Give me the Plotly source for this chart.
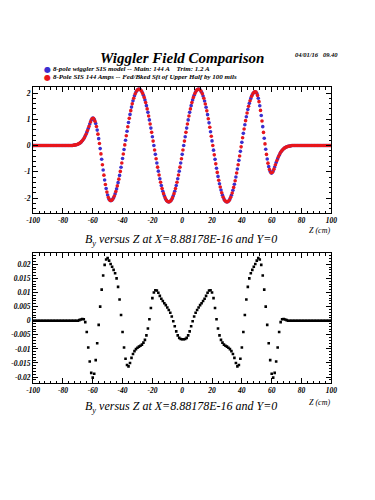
import plotly.graph_objects as go

# ---------------- data ----------------
# Top panel: By (kG) versus Z (cm); blue = SIS model, red = shifted model
Z_BLUE = list(range(-100, 101))            # sampling grid, 1 cm
BY_BLUE = (
    [0] * 27 +                                   # -100 .. -74
    [0.01, 0.02, 0.03, 0.05, 0.08, 0.12, 0.18, 0.26, 0.37, 0.5, 0.65, 0.82, 0.97] +   # -73 .. -61
    [1.05, 0.996, 0.839, 0.589, 0.263, -0.117, -0.525, -0.933, -1.313, -1.639, -1.889, -2.046, -2.1] +  # -60 .. -48
    [-2.07, -1.985, -1.843, -1.652, -1.414, -1.137, -0.829, -0.496, -0.149, 0.199, 0.546, 0.879,
     1.187, 1.464, 1.702, 1.893, 2.035, 2.12, 2.15] +                                # -47 .. -29
    [2.124, 2.045, 1.916, 1.739, 1.52, 1.264, 0.976, 0.664, 0.335, 0, -0.335, -0.664, -0.976,
     -1.264, -1.52, -1.739, -1.916, -2.045, -2.124, -2.15] +                          # -28 .. -9
    [-2.124, -2.045, -1.916, -1.739, -1.52, -1.264, -0.976, -0.664, -0.335, 0, 0.335, 0.664, 0.976,
     1.264, 1.52, 1.739, 1.916, 2.045, 2.124, 2.15] +                                 # -8 .. 11
    [2.12, 2.034, 1.89, 1.696, 1.456, 1.176, 0.864, 0.527, 0.176, -0.176, -0.527, -0.864, -1.176,
     -1.456, -1.696, -1.89, -2.034, -2.12, -2.15] +                                   # 12 .. 30
    [-2.121, -2.037, -1.896, -1.707, -1.472, -1.199, -0.894, -0.565, -0.222, 0.122, 0.465, 0.794,
     1.099, 1.372, 1.607, 1.796, 1.937, 2.021, 2.05] +                                # 31 .. 49
    [1.988, 1.804, 1.515, 1.143, 0.72, 0.28, -0.143, -0.515, -0.804, -0.988, -1.05] +  # 50 .. 60
    [-0.97, -0.82, -0.65, -0.5, -0.37, -0.26, -0.18, -0.12, -0.08, -0.05, -0.03, -0.02, -0.01] +  # 61 .. 73
    [0] * 27                                     # 74 .. 100
)

Z_RED = [z + 0.5 for z in range(-100, 100)]   # sampling grid, 1 cm, offset half a cm
BY_RED = (
    [0] * 27 +                                   # -99.5 .. -73.5
    [0.015, 0.025, 0.04, 0.065, 0.1, 0.15, 0.22, 0.31, 0.43, 0.57, 0.73, 0.9, 1.02] +  # -72.5 .. -60.5
    [1.036, 0.93, 0.724, 0.434, 0.078, -0.319, -0.731, -1.128, -1.484, -1.774, -1.98, -2.086] +  # -59.5 .. -48.5
    [-2.093, -2.035, -1.921, -1.754, -1.538, -1.28, -0.986, -0.665, -0.325, 0.025, 0.375, 0.715,
     1.036, 1.33, 1.588, 1.804, 1.971, 2.085, 2.143] +                                # -47.5 .. -29.5
    [2.143, 2.091, 1.986, 1.833, 1.635, 1.396, 1.123, 0.823, 0.502, 0.169, -0.169, -0.502, -0.823,
     -1.123, -1.396, -1.635, -1.833, -1.986, -2.091, -2.143] +                        # -28.5 .. -9.5
    [-2.143, -2.091, -1.986, -1.833, -1.635, -1.396, -1.123, -0.823, -0.502, -0.169, 0.169, 0.502,
     0.823, 1.123, 1.396, 1.635, 1.833, 1.986, 2.091, 2.143] +                        # -8.5 .. 10.5
    [2.143, 2.084, 1.969, 1.8, 1.582, 1.321, 1.023, 0.698, 0.354, 0, -0.354, -0.698, -1.023,
     -1.321, -1.582, -1.8, -1.969, -2.084, -2.143] +                                  # 11.5 .. 29.5
    [-2.143, -2.086, -1.973, -1.808, -1.595, -1.34, -1.049, -0.732, -0.396, -0.05, 0.296, 0.632,
     0.949, 1.24, 1.495, 1.708, 1.873, 1.986, 2.043] +                                # 30.5 .. 48.5
    [2.034, 1.91, 1.671, 1.338, 0.937, 0.5, 0.063, -0.338, -0.671, -0.91, -1.034] +   # 49.5 .. 59.5
    [-1.02, -0.9, -0.73, -0.57, -0.43, -0.31, -0.22, -0.15, -0.1, -0.065, -0.04, -0.025, -0.015] +  # 60.5 .. 72.5
    [0] * 27                                     # 73.5 .. 99.5
)

# Bottom panel: difference field By versus Z
Z_DIFF = list(range(-100, 101))
BY_DIFF = (
    [0] * 31 +                                   # -100 .. -70
    [0.0002, 0.0004, 0.0006, 0.0005, -0.0005, -0.004, -0.0095, -0.0145, -0.0185, -0.0202,
     -0.0188, -0.014, -0.008, -0.0015, 0.005, 0.011, 0.016, 0.0198, 0.0217, 0.0222,
     0.0213, 0.0201, 0.0191, 0.018, 0.0168, 0.015, 0.012, 0.0075, 0.002, -0.004,
     -0.0095, -0.0135, -0.0157, -0.0162, -0.015, -0.0132, -0.0118, -0.0108, -0.0101, -0.0096,
     -0.0092, -0.0089, -0.0085, -0.0078, -0.0068, -0.0052, -0.0028, 0.0005, 0.0045, 0.008,
     0.01, 0.0108, 0.0107, 0.0099, 0.0088, 0.0078, 0.007, 0.0062, 0.0055, 0.0047,
     0.0038, 0.0028, 0.0015, -0.0002, -0.002, -0.0038, -0.0052, -0.0061, -0.0065, -0.0066] +  # -69 .. 0
    [-0.0066, -0.0065, -0.0061, -0.0052, -0.0038, -0.002, -0.0002, 0.0015, 0.0028, 0.0038,
     0.0047, 0.0055, 0.0062, 0.007, 0.0078, 0.0088, 0.0099, 0.0107, 0.0108, 0.01,
     0.008, 0.0045, 0.0005, -0.0028, -0.0052, -0.0068, -0.0078, -0.0085, -0.0089, -0.0092,
     -0.0096, -0.0101, -0.0108, -0.0118, -0.0132, -0.015, -0.0162, -0.0157, -0.0135, -0.0095,
     -0.004, 0.002, 0.0075, 0.012, 0.015, 0.0168, 0.018, 0.0191, 0.0201, 0.0213,
     0.0222, 0.0217, 0.0198, 0.016, 0.011, 0.005, -0.0015, -0.008, -0.014, -0.0188,
     -0.0202, -0.0185, -0.0145, -0.0095, -0.004, -0.0005, 0.0005, 0.0006, 0.0004, 0.0002] +  # 1 .. 70
    [0] * 30                                     # 71 .. 100
)

X_TICKS = [-100, -80, -60, -40, -20, 0, 20, 40, 60, 80, 100]
X_TICKTEXT = ["-100", "-80", "-60", "-40", "-20", "0", "20", "40", "60", "80", "100"]
Y1_TICKS = [-2, -1, 0, 1, 2]
Y1_TICKTEXT = ["-2", "-1", "0", "1", "2"]
Y2_TICKS = [-0.02, -0.015, -0.01, -0.005, 0, 0.005, 0.01, 0.015, 0.02]
Y2_TICKTEXT = ["-0.02", "-0.015", "-0.01", "-0.005", "0", "0.005", "0.01", "0.015", "0.02"]

TITLE = "Wiggler Field Comparison"
DATE = "04/01/16   09.40"
LEGEND_1 = "8-pole wiggler SIS model -- Main: 144 A    Trim: 1.2 A"
LEGEND_2 = "8-Pole SIS 144 Amps -- Fed/Bked Sft of Upper Half by 100 mils"
SUBTITLE = "B<sub>y</sub> versus Z at X=8.88178E-16 and Y=0"
XLABEL = "Z (cm)"

assert len(Z_BLUE) == len(BY_BLUE)
assert len(Z_RED) == len(BY_RED)
assert len(Z_DIFF) == len(BY_DIFF)

# ---------------- figure ----------------
W, H = 375, 500
BLUE = "#3a2fd0"
RED = "#e8161c"
SERIF = "Liberation Serif"


def px(x):
    return x / W


def py(y):
    return 1 - y / H


fig = go.Figure()
fig.add_trace(go.Scatter(x=Z_BLUE, y=BY_BLUE, mode="markers",
                         marker=dict(color=BLUE, size=3.6, line=dict(width=0)),
                         xaxis="x", yaxis="y", showlegend=False))
fig.add_trace(go.Scatter(x=Z_RED, y=BY_RED, mode="markers",
                         marker=dict(color=RED, size=3.6, line=dict(width=0)),
                         xaxis="x", yaxis="y", showlegend=False))
fig.add_trace(go.Scatter(x=Z_DIFF, y=BY_DIFF, mode="markers",
                         marker=dict(color="black", size=2.6, symbol="square", line=dict(width=0)),
                         xaxis="x2", yaxis="y2", showlegend=False))

tickfont = dict(family=SERIF, size=7.5, color="black", style="italic", weight="bold")
common = dict(showline=True, linecolor="black", linewidth=1, mirror="ticks",
              ticks="inside", ticklen=5, tickwidth=1, tickcolor="black",
              showgrid=False, zeroline=False, tickfont=tickfont, fixedrange=True)

XDOM = [px(27), px(336)]
fig.update_layout(
    width=W, height=H, autosize=False,
    margin=dict(l=0, r=0, t=0, b=0),
    paper_bgcolor="white", plot_bgcolor="white",
    xaxis=dict(domain=XDOM, anchor="y", range=[-100, 100], tickmode="array",
               tickvals=X_TICKS, ticktext=X_TICKTEXT,
               minor=dict(ticks="inside", ticklen=2.5, dtick=4, tick0=-100, tickcolor="black", showgrid=False),
               **common),
    yaxis=dict(domain=[py(213), py(87)], anchor="x", range=[-2.57, 2.23], tickmode="array",
               tickvals=Y1_TICKS, ticktext=Y1_TICKTEXT,
               minor=dict(ticks="inside", ticklen=2.5, dtick=0.2, tick0=0, tickcolor="black", showgrid=False),
               **common),
    xaxis2=dict(domain=XDOM, anchor="y2", range=[-100, 100], tickmode="array",
                tickvals=X_TICKS, ticktext=X_TICKTEXT,
                minor=dict(ticks="inside", ticklen=2.5, dtick=4, tick0=-100, tickcolor="black", showgrid=False),
                **common),
    yaxis2=dict(domain=[py(383), py(253)], anchor="x2", range=[-0.0221, 0.0240], tickmode="array",
                tickvals=Y2_TICKS, ticktext=Y2_TICKTEXT,
                minor=dict(ticks="inside", ticklen=2.5, dtick=0.001, tick0=0, tickcolor="black", showgrid=False),
                **common),
)

ann = []
ann.append(dict(x=px(181), y=py(48), text=TITLE, showarrow=False, xref="paper", yref="paper",
                font=dict(family=SERIF, size=15, color="black", style="italic", weight="bold")))
ann.append(dict(x=px(345), y=py(49), text=DATE, showarrow=False, xref="paper", yref="paper",
                font=dict(family=SERIF, size=6.5, color="black", style="italic", weight="bold")))
legfont = dict(family=SERIF, size=7, color="black", style="italic", weight="bold")
for yy, col, txt in [(63, BLUE, LEGEND_1), (71, RED, LEGEND_2)]:
    ann.append(dict(x=px(36), y=py(yy), text="\u25cf", showarrow=False, xref="paper", yref="paper",
                    font=dict(family="DejaVu Sans", size=8, color=col)))
    ann.append(dict(x=px(46), y=py(yy), text=txt, showarrow=False, xref="paper", yref="paper",
                    xanchor="left", font=legfont))
for yy in (231, 409):
    ann.append(dict(x=px(337), y=py(yy), text=XLABEL, showarrow=False, xref="paper", yref="paper",
                    xanchor="right", font=dict(family=SERIF, size=8, color="black", style="italic")))
for yy in (240, 417):
    ann.append(dict(x=px(180), y=py(yy), text=SUBTITLE, showarrow=False, xref="paper", yref="paper",
                    font=dict(family=SERIF, size=12, color="black", style="italic")))
fig.update_layout(annotations=ann)

fig.write_html("out.html", config={"displayModeBar": False, "staticPlot": True},
               post_script="document.body.style.margin='0';")
